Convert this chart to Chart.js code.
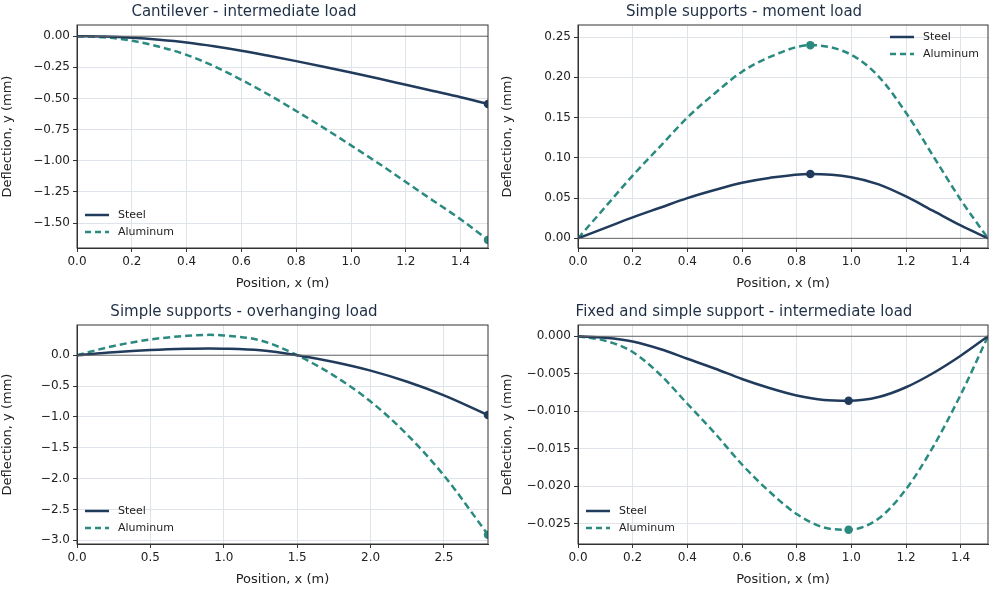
<!DOCTYPE html>
<html>
<head>
<meta charset="utf-8">
<script src="https://cdn.jsdelivr.net/npm/chart.js@4.4.0/dist/chart.umd.min.js"></script>
<style>
  body { margin: 0; background: #fff; width: 1000px; height: 591px; overflow: hidden; position: relative; }
  .box { position: absolute; width: 500px; }
</style>
</head>
<body>
<div class="box" style="left:0;top:0;height:295px"><canvas id="c1"></canvas></div>
<div class="box" style="left:500px;top:0;height:295px"><canvas id="c2"></canvas></div>
<div class="box" style="left:0;top:300px;height:291px"><canvas id="c3"></canvas></div>
<div class="box" style="left:500px;top:300px;height:291px"><canvas id="c4"></canvas></div>
<script>
// datos
const x1 = [0, 0.1, 0.2, 0.3, 0.4, 0.5, 0.6, 0.7, 0.8, 0.9, 1.0, 1.1, 1.2, 1.3, 1.4, 1.5];
const acero1 = [0, -0.003, -0.012, -0.028, -0.05, -0.08, -0.116, -0.157, -0.2, -0.245, -0.292, -0.34, -0.39, -0.44, -0.49, -0.545];
const alu1 = [0, -0.009, -0.036, -0.084, -0.15, -0.24, -0.35, -0.47, -0.6, -0.735, -0.876, -1.02, -1.17, -1.32, -1.47, -1.635];

const x2 = [0, 0.1, 0.2, 0.3, 0.4, 0.5, 0.6, 0.7, 0.85, 1.0, 1.1, 1.2, 1.3, 1.4, 1.5];
const acero2 = [0, 0.013, 0.026, 0.038, 0.05, 0.06, 0.069, 0.075, 0.08, 0.076, 0.067, 0.052, 0.034, 0.016, 0];
const alu2 = [0, 0.039, 0.078, 0.114, 0.15, 0.18, 0.207, 0.225, 0.24, 0.228, 0.201, 0.156, 0.102, 0.048, 0];

const x3 = [0, 0.25, 0.5, 0.75, 0.9, 1.0, 1.25, 1.5, 1.75, 2.0, 2.25, 2.5, 2.8];
const acero3 = [0, 0.05, 0.085, 0.105, 0.11, 0.107, 0.08, 0, -0.11, -0.25, -0.43, -0.65, -0.97];
const alu3 = [0, 0.15, 0.255, 0.315, 0.33, 0.32, 0.24, 0, -0.33, -0.75, -1.29, -1.95, -2.91];

const x4 = [0, 0.1, 0.2, 0.3, 0.4, 0.5, 0.6, 0.7, 0.8, 0.9, 0.99, 1.1, 1.2, 1.3, 1.4, 1.5];
const acero4 = [0, -0.0002, -0.0007, -0.0017, -0.003, -0.0043, -0.0057, -0.0069, -0.0079, -0.0085, -0.0086, -0.0081, -0.0068, -0.0049, -0.0026, 0];
const alu4 = [0, -0.0006, -0.0021, -0.0051, -0.009, -0.0129, -0.0171, -0.0207, -0.0237, -0.0255, -0.0258, -0.0243, -0.0204, -0.0147, -0.0078, 0];

const azul = '#213b5c';
const verde = '#2a8a80';
const fuente = '"DejaVu Sans"';

function puntos(xs, ys) { return xs.map((x, i) => ({ x: x, y: ys[i] })); }

function pasos(min, max, step) {
    const t = [];
    for (let v = Math.ceil(min / step - 1e-9) * step; v <= max + 1e-9; v += step) t.push({ value: +v.toFixed(6) });
    return t;
}

// leyenda y marco dibujados dentro del area
const leyendaInterna = {
    id: 'leyendaInterna',
    afterDraw(chart, args, opts) {
        const ctx = chart.ctx, a = chart.chartArea;
        ctx.save();
        ctx.strokeStyle = '#333'; ctx.lineWidth = 1;
        ctx.strokeRect(a.left, a.top, a.right - a.left, a.bottom - a.top);
        let x = opts.right ? a.right - 98 : a.left + 8;
        let y = opts.right ? a.top + 12 : a.bottom - 33;
        ctx.lineWidth = 2.5;
        ctx.font = '11px ' + fuente;
        ctx.fillStyle = '#222';
        ctx.textBaseline = 'middle';
        ctx.strokeStyle = azul; ctx.setLineDash([]);
        ctx.beginPath(); ctx.moveTo(x, y); ctx.lineTo(x + 24, y); ctx.stroke();
        ctx.fillText('Steel', x + 33, y);
        ctx.strokeStyle = verde; ctx.setLineDash([6, 4]);
        ctx.beginPath(); ctx.moveTo(x, y + 17); ctx.lineTo(x + 24, y + 17); ctx.stroke();
        ctx.fillText('Aluminum', x + 33, y + 17);
        ctx.restore();
    }
};

function grafica(id, titulo, xs, ys1, ys2, idx1, idx2, xmax, xstep, ymin, ymax, ystep, yfmt, leftW, derecha) {
    const marca = (n, i) => (i === n ? 3 : 0);
    new Chart(document.getElementById(id), {
        type: 'line',
        data: {
            datasets: [
                { data: [{ x: 0, y: 0 }, { x: xmax, y: 0 }], borderColor: '#666', borderWidth: 1, pointRadius: 0 },
                { data: puntos(xs, ys1), borderColor: azul, backgroundColor: azul, borderWidth: 2.5,
                  cubicInterpolationMode: 'monotone', pointRadius: ctx => marca(idx1, ctx.dataIndex) },
                { data: puntos(xs, ys2), borderColor: verde, backgroundColor: verde, borderWidth: 2.5, borderDash: [7, 4],
                  cubicInterpolationMode: 'monotone', pointRadius: ctx => marca(idx2, ctx.dataIndex) }
            ]
        },
        options: {
            responsive: true, maintainAspectRatio: false, animation: false,
            layout: { padding: { right: 12 } },
            plugins: {
                legend: { display: false }, tooltip: { enabled: false },
                title: { display: true, text: titulo, color: '#1f2f45', font: { size: 15, family: fuente, weight: 'normal' }, padding: { top: 3, bottom: 4 } },
                leyendaInterna: { right: derecha }
            },
            scales: {
                x: {
                    type: 'linear', min: 0, max: xmax,
                    afterBuildTicks: s => { s.ticks = pasos(0, xmax, xstep); },
                    ticks: { color: '#222', font: { size: 12, family: fuente }, maxRotation: 0, callback: v => v.toFixed(1) },
                    grid: { color: '#dfe4ea', tickColor: '#333', tickLength: 4 },
                    border: { color: '#333', width: 1 },
                    title: { display: true, text: 'Position, x (m)', color: '#222', font: { size: 13, family: fuente }, padding: { top: 0 } },
                    afterFit: s => { s.height = 47; }
                },
                y: {
                    min: ymin, max: ymax,
                    afterBuildTicks: s => { s.ticks = pasos(ymin, ymax, ystep); },
                    ticks: { color: '#222', font: { size: 12, family: fuente }, callback: v => (v < 0 ? '\u2212' : '') + Math.abs(v).toFixed(yfmt) },
                    grid: { color: '#dfe4ea', tickColor: '#333', tickLength: 4 },
                    border: { color: '#333', width: 1 },
                    title: { display: true, text: 'Deflection, y (mm)', color: '#222', font: { size: 13, family: fuente }, padding: 0 },
                    afterFit: s => { s.width = leftW; }
                }
            }
        },
        plugins: [leyendaInterna]
    });
}

grafica('c1', 'Cantilever - intermediate load', x1, acero1, alu1, 15, 15, 1.5, 0.2, -1.70, 0.09, 0.25, 2, 77, false);
grafica('c2', 'Simple supports - moment load', x2, acero2, alu2, 8, 8, 1.5, 0.2, -0.012, 0.265, 0.05, 2, 78, true);
grafica('c3', 'Simple supports - overhanging load', x3, acero3, alu3, 12, 12, 2.8, 0.5, -3.06, 0.49, 0.5, 1, 77, false);
grafica('c4', 'Fixed and simple support - intermediate load', x4, acero4, alu4, 10, 10, 1.5, 0.2, -0.0277, 0.0015, 0.005, 3, 78, false);
</script>
</body>
</html>
